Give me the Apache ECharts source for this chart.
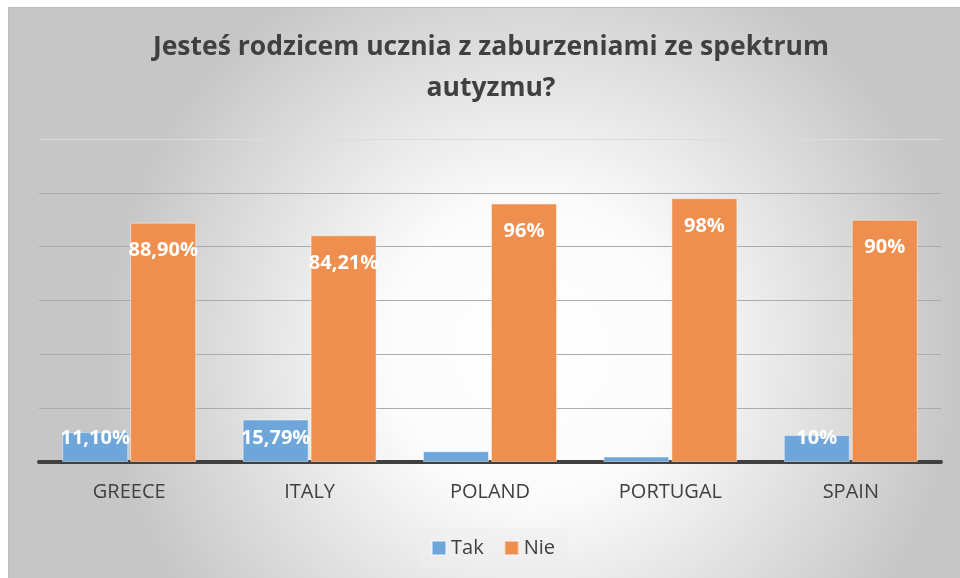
<!DOCTYPE html>
<html>
<head>
<meta charset="utf-8">
<script src="https://cdn.jsdelivr.net/npm/echarts@6/dist/echarts.min.js"></script>
<style>
  html, body { margin: 0; padding: 0; background: #fff; }
  #chart {
    position: absolute; left: 8px; top: 7px;
    width: 951px; height: 570px;
    border: 1px solid #bdbdbd; border-right: none; border-bottom: none;
  }
</style>
</head>
<body>
<div id="chart"></div>
<script>
const categories = ["GREECE", "ITALY", "POLAND", "PORTUGAL", "SPAIN"];
const takValues = [11.1, 15.79, 4, 2, 10];
const nieValues = [88.9, 84.21, 96, 98, 90];
const takLabels = ["11,10%", "15,79%", "", "", "10%"];
const nieLabels = ["88,90%", "84,21%", "96%", "98%", "90%"];

const chart = echarts.init(document.getElementById("chart"));
const font = "'Open Sans', 'Noto Sans', sans-serif";

chart.setOption({
  backgroundColor: {
    type: "radial", x: 0.55, y: 0.6, r: 0.75,
    colorStops: [
      { offset: 0, color: "#ffffff" },
      { offset: 0.35, color: "#fbfbfb" },
      { offset: 1, color: "#c6c6c6" },
    ],
  },
  textStyle: { fontFamily: font },
  title: {
    text: "Jesteś rodzicem ucznia z zaburzeniami ze spektrum\nautyzmu?",
    left: 482,
    textAlign: "center",
    top: 19,
    padding: 0,
    textStyle: {
      fontFamily: font,
      fontSize: 26.5,
      fontWeight: "bold",
      color: "#404040",
      lineHeight: 41,
    },
  },
  legend: {
    bottom: 10,
    left: 410,
    itemWidth: 14,
    itemHeight: 14,
    itemGap: 20,
    padding: [10, 12],
    backgroundColor: "rgba(238,238,238,0.5)",
    icon: "rect",
    textStyle: { fontFamily: font, fontSize: 20, color: "#404040", padding: [0, 0, 0, 0] },
    data: ["Tak", "Nie"],
  },
  grid: { left: 30, right: 19, top: 131, bottom: 116 },
  xAxis: {
    type: "category",
    data: categories,
    axisLine: { lineStyle: { color: "#404040", width: 4 } },
    axisTick: { show: false },
    axisLabel: { fontFamily: font, fontSize: 20, color: "#404040", margin: 20 },
  },
  yAxis: {
    type: "value",
    min: 0,
    max: 120,
    interval: 20,
    axisLabel: { show: false },
    axisLine: { show: false },
    axisTick: { show: false },
    splitLine: { lineStyle: { color: ["#ababab", "#ababab", "#ababab", "#ababab", "#ababab", "#ababab", "#dcdcdc"], width: 1 } },
  },
  series: [
    {
      name: "Tak",
      type: "bar",
      data: takValues,
      barWidth: 66,
      barGap: "3%",
      itemStyle: { color: "#6fa6da", borderColor: "rgba(255,255,255,0.45)", borderWidth: 1 },
      label: {
        show: true,
        position: "insideBottom",
        distance: 14,
        formatter: (p) => takLabels[p.dataIndex],
        fontFamily: font,
        fontSize: 20,
        fontWeight: "bold",
        color: "#ffffff",
      },
    },
    {
      name: "Nie",
      type: "bar",
      data: nieValues,
      barWidth: 66,
      itemStyle: { color: "#ee8e4f", borderColor: "rgba(255,255,255,0.45)", borderWidth: 1 },
      label: {
        show: true,
        position: "insideTop",
        distance: 18,
        formatter: (p) => nieLabels[p.dataIndex],
        fontFamily: font,
        fontSize: 20,
        fontWeight: "bold",
        color: "#ffffff",
      },
    },
  ],
});
</script>
</body>
</html>
